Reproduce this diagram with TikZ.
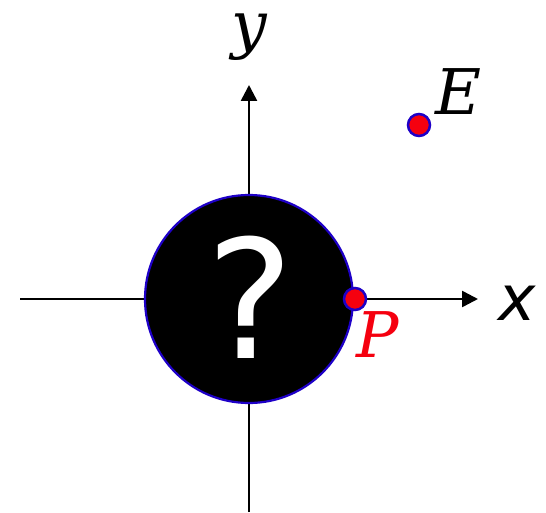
\documentclass[tikz,border=0pt]{standalone}
\usepackage{fontspec}
\newfontfamily\dvsans{DejaVu Sans}
\newfontfamily\dvserif{DejaVu Serif}
\usetikzlibrary{arrows.meta}
\definecolor{rimblue}{RGB}{30,0,200}
\definecolor{dotred}{RGB}{245,0,15}
\tikzset{
  axis/.style={line width=2.6pt, -{Triangle[length=16pt,width=16pt]}},
  axisplain/.style={line width=2.6pt},
  dot/.style={circle, fill=dotred, draw=rimblue, line width=2.5pt, minimum size=22pt, inner sep=0pt},
  lbl/.style={inner sep=0pt, anchor=base, font=\dvserif\itshape\fontsize{63}{70}\selectfont},
}
\begin{document}
\begin{tikzpicture}[x=1pt,y=-1pt]
\useasboundingbox (0,0) rectangle (546,513);
% axes
\coordinate (xl) at (20,299);
\coordinate (xr) at (478,299);
\coordinate (yb) at (249,512);
\coordinate (yt) at (249,85);
\draw[axisplain] (xl) -- (249,299);
\draw[axis] (249,299) -- (xr);
\draw[axisplain] (yb) -- (249,299);
\draw[axis] (249,299) -- (yt);
% disc
\node[circle, fill=black, draw=rimblue, line width=2.2pt, minimum size=208pt, inner sep=0pt] (disc) at (249,299) {};
\node[inner sep=0pt, anchor=base, text=white, font=\dvsans\fontsize{165}{170}\selectfont] (q) at (250,358) {?};
% points
\node[dot] (P) at (355,299) {};
\node[dot] (E) at (419,125) {};
% labels
\node[lbl, text=dotred, anchor=base west] (Pl) at (356,357) {P};
\node[lbl, anchor=base west] (El) at (435,115) {E};
\node[inner sep=0pt, anchor=base west, font=\dvsans\itshape\fontsize{63}{70}\selectfont] (xlab) at (498,320) {x};
\node[lbl, text height=0.5em] (ylab) at (249,47) {y};
\end{tikzpicture}
\end{document}
